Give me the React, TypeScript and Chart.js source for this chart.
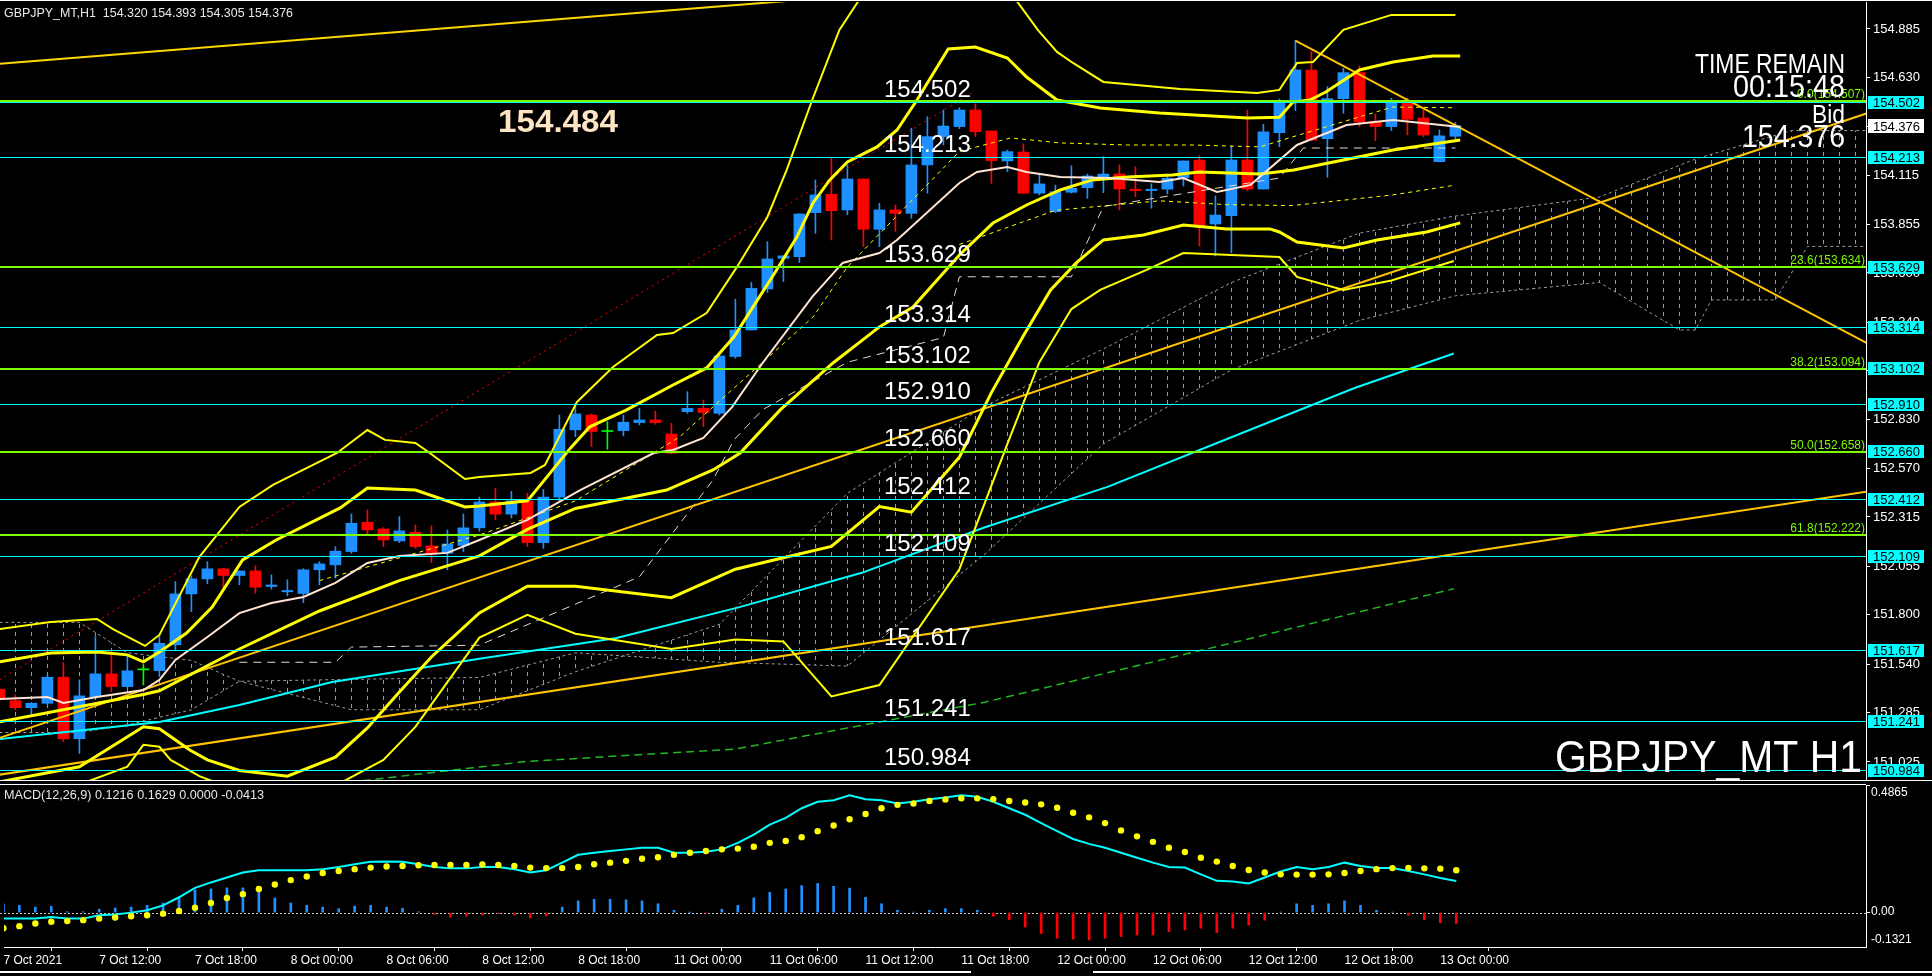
import React, { useEffect, useRef } from "react";
import { Chart, registerables } from "chart.js";
Chart.register(...registerables);

// ---------------- DATA ----------------
const opens = [151.408,151.348,151.311,151.334,151.471,151.147,151.369,151.489,151.422,151.510,151.506,151.642,151.910,151.989,152.042,152.007,152.031,151.949,151.921,151.912,152.037,152.063,152.133,152.287,152.252,152.189,152.235,152.163,152.124,152.165,152.258,152.394,152.330,152.400,152.180,152.420,152.774,152.852,152.765,152.770,152.812,152.826,152.752,152.870,152.887,152.861,153.160,153.300,153.516,153.677,153.686,153.918,154.014,153.932,154.095,153.830,153.932,153.914,154.169,154.318,154.371,154.458,154.348,154.190,154.237,154.020,153.923,154.025,154.049,154.107,154.121,154.041,154.034,154.041,154.102,154.195,153.858,153.902,154.195,154.042,154.339,154.502,154.669,154.307,154.518,154.655,154.399,154.371,154.504,154.416,154.186,154.320];
const highs = [151.422,151.378,151.338,151.483,151.548,151.457,151.685,151.606,151.580,151.536,151.694,151.975,152.005,152.080,152.045,152.031,152.058,152.010,151.984,152.043,152.080,152.159,152.331,152.352,152.259,152.317,152.273,152.268,152.247,152.331,152.420,152.465,152.450,152.440,152.460,152.852,152.914,152.858,152.817,152.852,152.888,152.873,152.808,152.975,152.931,153.168,153.462,153.551,153.765,153.690,153.911,154.090,154.207,154.169,154.095,153.967,153.958,154.362,154.423,154.459,154.470,154.490,154.348,154.248,154.279,154.125,154.063,154.164,154.121,154.213,154.169,154.160,154.069,154.121,154.190,154.218,154.006,154.269,154.458,154.383,154.516,154.824,154.766,154.581,154.678,154.690,154.437,154.520,154.520,154.458,154.353,154.393];
const lows = [151.348,151.299,151.264,151.325,151.132,151.070,151.361,151.396,151.413,151.431,151.475,151.615,151.817,151.963,151.945,151.958,151.914,151.935,151.900,151.864,151.958,151.993,152.124,152.226,152.159,152.180,152.150,152.075,152.037,152.133,152.240,152.300,152.310,152.160,152.150,152.400,152.738,152.686,152.672,152.742,152.800,152.803,152.647,152.861,152.791,152.852,153.151,153.300,153.497,153.555,153.655,153.809,153.774,153.906,153.739,153.739,153.818,153.888,154.020,154.274,154.360,154.318,154.072,154.134,154.020,154.011,153.918,154.020,153.993,154.023,153.932,154.002,153.941,154.016,154.058,153.742,153.690,153.707,154.034,154.042,154.265,154.455,154.300,154.104,154.441,154.371,154.297,154.350,154.327,154.318,154.186,154.305];
const closes = [151.361,151.311,151.334,151.471,151.147,151.373,151.489,151.422,151.505,151.510,151.650,151.910,151.989,152.042,152.007,152.031,151.945,151.957,151.928,152.037,152.068,152.135,152.282,152.247,152.194,152.242,152.159,152.121,152.173,152.258,152.394,152.330,152.400,152.180,152.420,152.777,152.858,152.765,152.765,152.814,152.826,152.812,152.651,152.887,152.865,153.163,153.300,153.519,153.674,153.690,153.911,154.011,153.928,154.095,153.830,153.932,153.914,154.169,154.318,154.374,154.458,154.344,154.192,154.239,154.020,154.069,154.028,154.046,154.111,154.121,154.042,154.034,154.041,154.099,154.190,153.848,153.905,154.195,154.042,154.343,154.504,154.669,154.300,154.518,154.655,154.395,154.371,154.504,154.409,154.327,154.322,154.376];

const timeTickIndex = [0,6,12,18,24,30,36,42,48,54,60,66,72,78,84,90];
const timeTickLabels = ["7 Oct 2021","7 Oct 12:00","7 Oct 18:00","8 Oct 00:00","8 Oct 06:00","8 Oct 12:00","8 Oct 18:00","11 Oct 00:00","11 Oct 06:00","11 Oct 12:00","11 Oct 18:00","12 Oct 00:00","12 Oct 06:00","12 Oct 12:00","12 Oct 18:00","13 Oct 00:00"];
const priceTicks = [154.885,154.630,154.370,154.115,153.855,153.600,153.340,153.085,152.830,152.570,152.315,152.055,151.800,151.540,151.285,151.025];

const levels = [154.502,154.213,153.629,153.314,153.102,152.910,152.660,152.412,152.109,151.617,151.241,150.984];
const fibLevels = [154.507,153.634,153.094,152.658,152.222];
const fibNames = ["0.0","23.6","38.2","50.0","61.8"];
const bidPrice = 154.376;

const macdLine = [-0.023,-0.023,-0.023,-0.017,-0.023,-0.023,-0.010,-0.007,0.000,0.009,0.028,0.059,0.095,0.116,0.135,0.154,0.163,0.163,0.163,0.163,0.167,0.175,0.186,0.195,0.196,0.195,0.186,0.175,0.170,0.170,0.175,0.175,0.167,0.154,0.163,0.192,0.222,0.230,0.237,0.243,0.249,0.249,0.230,0.230,0.234,0.243,0.268,0.300,0.338,0.364,0.401,0.426,0.432,0.451,0.436,0.432,0.419,0.426,0.436,0.442,0.451,0.445,0.426,0.401,0.376,0.344,0.313,0.283,0.264,0.249,0.230,0.211,0.192,0.175,0.173,0.147,0.122,0.120,0.112,0.135,0.158,0.175,0.167,0.175,0.192,0.179,0.171,0.171,0.160,0.147,0.133,0.1216];
const macdSignal = [-0.060,-0.052,-0.042,-0.035,-0.032,-0.029,-0.023,-0.019,-0.014,-0.010,-0.004,0.006,0.019,0.037,0.056,0.071,0.091,0.108,0.125,0.139,0.152,0.160,0.167,0.173,0.177,0.179,0.182,0.183,0.183,0.183,0.185,0.183,0.179,0.173,0.171,0.171,0.175,0.186,0.192,0.199,0.207,0.213,0.222,0.230,0.237,0.243,0.246,0.253,0.268,0.275,0.290,0.313,0.335,0.359,0.379,0.401,0.414,0.419,0.429,0.435,0.439,0.439,0.436,0.429,0.423,0.416,0.403,0.384,0.366,0.344,0.316,0.293,0.272,0.249,0.233,0.211,0.196,0.179,0.164,0.154,0.147,0.146,0.146,0.147,0.152,0.160,0.167,0.171,0.172,0.170,0.169,0.1629];
const macdHist = [0.034,0.028,0.021,0.024,0.003,0.003,0.013,0.018,0.021,0.028,0.037,0.059,0.087,0.091,0.095,0.095,0.078,0.056,0.037,0.028,0.021,0.015,0.025,0.028,0.021,0.017,0.003,-0.006,-0.017,-0.014,-0.010,-0.004,-0.010,-0.020,-0.013,0.021,0.045,0.051,0.051,0.049,0.045,0.034,0.009,0.001,-0.001,0.013,0.028,0.057,0.078,0.091,0.104,0.112,0.101,0.094,0.059,0.034,0.009,0.002,0.009,0.015,0.015,0.009,-0.014,-0.027,-0.055,-0.080,-0.098,-0.102,-0.105,-0.098,-0.092,-0.086,-0.086,-0.073,-0.067,-0.060,-0.077,-0.060,-0.048,-0.029,0.002,0.034,0.028,0.034,0.045,0.028,0.009,0.002,-0.010,-0.027,-0.039,-0.0413];

// indicator lines: [bar index, price]
const bbUpperThin = [[0,151.725],[3.2,151.762],[6.1,151.778],[7.1,151.725],[9.1,151.636],[10,151.694],[12.5,152.105],[15,152.368],[17.1,152.484],[21.1,152.652],[23,152.773],[24.1,152.721],[26,152.705],[26.9,152.652],[29.1,152.515],[30,152.526],[33.2,152.547],[34.1,152.589],[36.1,152.921],[38.35,153.105],[41.1,153.274],[42.1,153.284],[44.2,153.389],[46.1,153.632],[48,153.895],[49.2,154.142],[50.8,154.511],[52.5,154.88],[55,155.2],[60,155.35],[63,155.1],[64.9,154.88],[66.1,154.764],[67.1,154.706],[69,154.606],[73.8,154.569],[78.6,154.548],[80,154.564],[81.1,154.706],[82.1,154.711],[84,154.88],[87,154.959],[91,154.959]];
const bbUpperThick = [[0,151.552],[3.2,151.599],[6.1,151.604],[8,151.589],[9,151.552],[10,151.604],[11.7,151.704],[13.3,151.841],[15.2,152.089],[17.3,152.194],[21.3,152.363],[23,152.468],[26,152.457],[29.1,152.368],[30,152.373],[33,152.40],[35.7,152.679],[36.9,152.79],[39.2,152.879],[42.1,153.010],[44.2,153.100],[45.9,153.263],[47.5,153.474],[48.3,153.579],[49.85,153.790],[50.85,153.969],[51.9,154.090],[53,154.185],[54.85,154.264],[56.1,154.353],[57.35,154.511],[59.3,154.78],[61,154.79],[63,154.732],[64.2,154.632],[66.1,154.511],[68.8,154.469],[72.5,154.443],[78,154.416],[80,154.42],[80.85,154.5],[81.9,154.511],[82.9,154.553],[85,154.669],[87.1,154.711],[89.6,154.743],[91.3,154.743]];
const bbMiddle = [[0,151.236],[9,151.38],[10,151.40],[15,151.62],[20,151.82],[25,151.98],[30,152.11],[33,152.25],[36,152.36],[41.7,152.457],[44.6,152.563],[46.3,152.652],[48.8,152.879],[52.1,153.126],[55,153.316],[57.1,153.421],[60,153.695],[62.1,153.863],[64.2,153.958],[66.3,154.037],[68.3,154.090],[70.5,154.106],[73.3,154.116],[75,154.132],[78.8,154.121],[80.9,154.142],[84,154.195],[87.1,154.248],[91.3,154.300]];
const bbLowerThick = [[0,150.92],[5,151.0],[9,151.21],[10,151.2],[11.9,151.088],[13,151.036],[15,150.98],[18,150.95],[21,151.05],[23,151.204],[25,151.394],[27,151.578],[30,151.81],[33,151.95],[36,151.95],[42,151.89],[46,152.04],[49,152.1],[52,152.16],[55,152.37],[57,152.34],[60,152.63],[62,152.97],[64,153.27],[65.7,153.511],[67.3,153.653],[69,153.774],[71.5,153.800],[74,153.853],[76.7,153.832],[79.4,153.832],[80,153.816],[81.1,153.763],[84,153.732],[86.1,153.774],[89.2,153.816],[91.3,153.864]];
const bbLowerThin = [[0,150.75],[8,151.0],[9,151.115],[10,151.105],[10.7,151.036],[12.5,150.95],[15,150.87],[21,150.9],[24,151.036],[26,151.21],[28.1,151.457],[30,151.68],[33,151.8],[36,151.7],[42,151.62],[46,151.67],[49,151.66],[52,151.37],[55,151.43],[60,152.04],[63,152.7],[65,153.13],[67,153.41],[68.8,153.511],[71.7,153.616],[74,153.705],[80,153.684],[81.1,153.579],[84,153.511],[87,153.56],[90.9,153.663]];
const fastMA = [[0,151.357],[3,151.367],[4,151.336],[6.1,151.367],[9,151.404],[10,151.457],[11,151.562],[13,151.683],[15,151.809],[17,151.862],[19,151.894],[21,151.968],[23,152.073],[25,152.110],[28,152.126],[30,152.194],[33,152.30],[36.3,152.457],[40.9,152.652],[42.1,152.668],[44,152.731],[45.8,152.895],[47.7,153.126],[50.8,153.474],[52.7,153.653],[55,153.705],[56.1,153.774],[60,154.074],[61.1,154.132],[63,154.158],[64.2,154.132],[66.3,154.106],[69.4,154.100],[72.5,154.079],[74,154.100],[76.1,154.027],[78.2,154.064],[81.1,154.274],[84.2,154.379],[87.1,154.406],[91.3,154.369]];
const envUpper = [[20,151.98],[30,152.22],[36,152.40],[42.5,152.736],[50.85,153.368],[53,153.632],[60,154.24],[63.2,154.311],[66.3,154.285],[70.5,154.274],[74.6,154.274],[78.8,154.264],[80.8,154.316],[85,154.422],[87.1,154.474],[91,154.47]];
const envLower = [[60,153.75],[66,153.93],[72.5,153.98],[76.7,153.96],[80.8,153.955],[87,154.01],[90.8,154.06]];
const kijun = [[15,151.55],[21,151.55],[22,151.63],[30,151.64],[40,152.0],[44.6,152.51],[45.9,152.72],[47.7,152.88],[53,153.13],[59,153.26],[60,153.58],[67,153.58],[69,153.95],[80,154.10],[81.5,154.258],[91,154.258]];
const cyanMA = [[0,151.145],[10,151.236],[15,151.325],[20.8,151.446],[30,151.568],[38.5,151.677],[46.2,151.839],[53.9,152.021],[61.6,152.261],[69.3,152.475],[77,152.735],[84.7,152.994],[90.9,153.176]];
const greenMA = [[0,150.80],[20,150.90],[33,151.028],[46,151.093],[61.6,151.34],[77,151.651],[90.9,151.937]];
const cloudTop = [[0,151.76],[5,151.76],[8,151.60],[12,151.56],[15,151.45],[22,151.30],[30,151.30],[36,151.50],[45,151.75],[53,152.44],[61.6,152.90],[69,153.20],[77,153.55],[85,153.81],[91,153.90],[100,154.0],[106,154.2],[112,154.35],[117,154.35]];
const cloudBottom = [[0,151.18],[5,151.18],[8,151.22],[12,151.30],[15,151.45],[22,151.46],[30,151.47],[36,151.60],[45,151.55],[53,151.53],[61.6,152.12],[69,152.70],[77,153.09],[85,153.35],[91,153.48],[100,153.55],[105,153.30],[106,153.30],[107,153.458],[111,153.458],[113,153.74],[117,153.74]];
const trendA = [[0,154.701],[100,155.374]];
const trendB = [[-1,150.945],[120,152.490]];
const trendC = [[-1,151.123],[120,154.533]];
const trendD = [[81,154.824],[120,153.085]];
const trendRed = [[0,151.457],[61,154.558]];

// ---------------- LAYOUT ----------------
const FONT = '"Liberation Sans", Arial, sans-serif';
const PLOT_W = 1866;
const X_MIN = 0.0375;
const X_MAX = X_MIN + PLOT_W / 16;
const P_MIN = 150.930;
const P_MAX = 155.027;
const BULL = "#1E90FF";
const BEAR = "#FF0000";
const DOJI = "#00FF00";

Chart.defaults.font.family = FONT;

const candleColor = (i: number) => (closes[i] > opens[i] ? BULL : closes[i] < opens[i] ? BEAR : DOJI);

function pts(a: number[][]) {
  return a.map(([x, y]) => ({ x, y }));
}

function lineDs(a: number[][], color: string, width: number, dash: number[] = [], order = 1) {
  return {
    type: "line",
    data: pts(a),
    borderColor: color,
    borderWidth: width,
    borderDash: dash,
    pointRadius: 0,
    fill: false,
    tension: 0,
    order,
  };
}

function fitText(ctx: CanvasRenderingContext2D, text: string, x: number, baseY: number, size: number, weight: string, targetW: number, align: string, color: string) {
  ctx.save();
  ctx.font = `${weight} ${size}px ${FONT}`;
  const w = ctx.measureText(text).width;
  const sx = targetW / w;
  ctx.fillStyle = color;
  ctx.textBaseline = "alphabetic";
  ctx.textAlign = "left";
  const left = align === "left" ? x : x - targetW;
  ctx.translate(left, baseY);
  ctx.scale(sx, 1);
  ctx.fillText(text, 0, 0);
  ctx.restore();
}

function makeHatch() {
  const c = document.createElement("canvas");
  c.width = 16;
  c.height = 8;
  const g = c.getContext("2d")!;
  g.fillStyle = "#9a9a9a";
  g.fillRect(15, 0, 1, 4);
  return g.createPattern(c, "repeat");
}

const zeroPad = (s: any) => {
  s.paddingTop = 0;
  s.paddingBottom = 0;
  s.paddingLeft = 0;
  s.paddingRight = 0;
};

const mainPlugin = {
  id: "mainDecor",
  afterDatasetsDraw(chart: any) {
    const { ctx, scales } = chart;
    const y = scales.y;
    const py = (v: number) => Math.round(y.getPixelForValue(v));
    ctx.save();
    ctx.fillStyle = "#00FFFF";
    levels.forEach((v) => ctx.fillRect(0, py(v), PLOT_W, 1));
    ctx.fillStyle = "#7CFC00";
    fibLevels.forEach((v) => ctx.fillRect(0, py(v) - 1, PLOT_W, 2));
    ctx.font = `24px ${FONT}`;
    ctx.fillStyle = "#FFFFFF";
    ctx.textAlign = "left";
    ctx.textBaseline = "alphabetic";
    levels.forEach((v) => ctx.fillText(v.toFixed(3), 884, py(v) - 5));
    ctx.font = `12px ${FONT}`;
    ctx.fillStyle = "#7CFC00";
    ctx.textAlign = "right";
    fibLevels.forEach((v, i) => ctx.fillText(`${fibNames[i]}(${v.toFixed(3)})`, 1865, py(v) - 3));
    ctx.restore();

    fitText(ctx, "154.484", 498, 132, 31, "bold", 120, "left", "#FFE4C4");
    fitText(ctx, "TIME REMAIN", 1845, 73, 28, "normal", 150, "right", "#FFFFFF");
    fitText(ctx, "00:15:48", 1845, 97, 31, "normal", 112, "right", "#FFFFFF");
    fitText(ctx, "Bid", 1845, 123, 25, "normal", 33, "right", "#FFFFFF");
    fitText(ctx, "154.376", 1845, 147, 31, "normal", 103, "right", "#FFFFFF");
    fitText(ctx, "GBPJPY_MT H1", 1862, 772, 45, "normal", 307, "right", "#FFFFFF");
    fitText(ctx, "GBPJPY_MT,H1  154.320 154.393 154.305 154.376", 4, 17, 13, "normal", 289, "left", "#E8E8E8");
  },
  afterDraw(chart: any) {
    const { ctx, scales } = chart;
    const y = scales.y;
    const py = (v: number) => Math.round(y.getPixelForValue(v));
    ctx.save();
    ctx.fillStyle = "#FFFFFF";
    ctx.fillRect(0, 0, 1932, 1);
    ctx.fillRect(0, 780, 1932, 1);
    ctx.font = `13px ${FONT}`;
    ctx.textAlign = "left";
    ctx.textBaseline = "middle";
    levels.forEach((v) => {
      const yc = py(v);
      ctx.fillStyle = "#00FFFF";
      ctx.fillRect(1868, yc - 6, 56, 13);
      ctx.fillStyle = "#000000";
      ctx.fillText(v.toFixed(3), 1873, yc + 1);
    });
    const yb = py(bidPrice);
    ctx.fillStyle = "#FFFFFF";
    ctx.fillRect(1868, yb - 7, 56, 14);
    ctx.fillStyle = "#000000";
    ctx.fillText(bidPrice.toFixed(3), 1873, yb + 1);
    ctx.restore();
  },
};

const macdPlugin = {
  id: "macdDecor",
  beforeDatasetsDraw(chart: any) {
    const { ctx, scales } = chart;
    const y0 = Math.round(scales.y.getPixelForValue(0));
    ctx.save();
    ctx.fillStyle = "#C8C8C8";
    for (let x = 0; x < PLOT_W; x += 4) ctx.fillRect(x, y0, 2, 1);
    ctx.restore();
  },
  afterDraw(chart: any) {
    const { ctx } = chart;
    ctx.save();
    ctx.fillStyle = "#FFFFFF";
    ctx.fillRect(0, 2, PLOT_W, 1);
    ctx.font = `12px ${FONT}`;
    ctx.textAlign = "left";
    ctx.textBaseline = "middle";
    ctx.fillText("0.4865", 1871, 11);
    ctx.fillText("0.00", 1871, 130);
    ctx.fillText("-0.1321", 1871, 158);
    ctx.fillRect(1866, 3, 4, 1);
    ctx.fillRect(1866, 130, 4, 1);
    ctx.fillRect(0, 189, 971, 2);
    ctx.fillRect(1093, 189, 839, 2);
    ctx.restore();
    fitText(ctx, "MACD(12,26,9) 0.1216 0.1629 0.0000 -0.0413", 4, 17, 12, "normal", 260, "left", "#E8E8E8");
  },
};

function mainConfig(): any {
  const hatch = makeHatch();
  return {
    type: "bar",
    data: {
      datasets: [
        {
          type: "line",
          data: pts(cloudTop),
          borderColor: "#9a9a9a",
          borderWidth: 1,
          borderDash: [3, 3],
          pointRadius: 0,
          tension: 0,
          fill: "+1",
          backgroundColor: hatch,
          order: 30,
        },
        {
          type: "line",
          data: pts(cloudBottom),
          borderColor: "#9a9a9a",
          borderWidth: 1,
          borderDash: [3, 3],
          pointRadius: 0,
          tension: 0,
          fill: false,
          order: 29,
        },
        {
          type: "bar",
          data: opens.map((o, i) => ({ x: i, y: [lows[i], highs[i]] })),
          backgroundColor: opens.map((o, i) => candleColor(i)),
          barThickness: 1,
          grouped: false,
          order: 21,
        },
        {
          type: "bar",
          data: opens.map((o, i) => ({ x: i, y: [Math.min(o, closes[i]), Math.max(o, closes[i])] })),
          backgroundColor: opens.map((o, i) => candleColor(i)),
          barThickness: 11,
          minBarLength: 1,
          grouped: false,
          order: 20,
        },
        lineDs(kijun, "#E8D8C8", 1, [8, 6], 12),
        lineDs(envUpper, "#FFFF00", 1, [4, 4], 11),
        lineDs(envLower, "#FFFF00", 1, [4, 4], 11),
        lineDs(greenMA, "#22B822", 1.5, [8, 5], 9),
        lineDs(cyanMA, "#00FFFF", 2, [], 8),
        lineDs(trendRed, "#FF0000", 1, [2, 4], 7),
        lineDs(trendA, "#FFD700", 2, [], 6),
        lineDs(trendB, "#FFC400", 2, [], 6),
        lineDs(trendC, "#FFC400", 2, [], 6),
        lineDs(trendD, "#FFC400", 2, [], 6),
        lineDs(bbUpperThin, "#FFFF00", 2, [], 5),
        lineDs(bbLowerThin, "#FFFF00", 2, [], 5),
        lineDs(bbUpperThick, "#FFFF00", 3, [], 4),
        lineDs(bbLowerThick, "#FFFF00", 3, [], 4),
        lineDs(bbMiddle, "#FFFF00", 3, [], 4),
        lineDs(fastMA, "#FFE4D2", 2, [], 3),
      ],
    },
    options: {
      responsive: false,
      animation: false,
      devicePixelRatio: 1,
      layout: { padding: { top: 2, bottom: 2, left: 0, right: 0 } },
      plugins: { legend: { display: false }, tooltip: { enabled: false } },
      scales: {
        x: { type: "linear", min: X_MIN, max: X_MAX, display: false, offset: false },
        y: {
          type: "linear",
          position: "right",
          min: P_MIN,
          max: P_MAX,
          afterFit: (s: any) => {
            s.width = 66;
            zeroPad(s);
          },
          afterBuildTicks: (s: any) => {
            s.ticks = priceTicks.map((v) => ({ value: v }));
          },
          ticks: {
            color: "#FFFFFF",
            font: { size: 13 },
            padding: 3,
            autoSkip: false,
            callback: (v: any) => Number(v).toFixed(3),
          },
          grid: { drawOnChartArea: false, drawTicks: true, tickLength: 4, color: "#FFFFFF" },
          border: { display: true, color: "#FFFFFF", width: 1 },
        },
      },
    },
    plugins: [mainPlugin],
  };
}

function macdConfig(): any {
  return {
    type: "bar",
    data: {
      datasets: [
        {
          type: "line",
          data: macdSignal.map((v, i) => ({ x: i, y: v })),
          showLine: false,
          pointRadius: 3.2,
          pointBorderWidth: 0,
          pointBackgroundColor: "#FFFF00",
          order: 0,
        },
        {
          type: "line",
          data: macdLine.map((v, i) => ({ x: i, y: v })),
          borderColor: "#00FFFF",
          borderWidth: 2,
          pointRadius: 0,
          tension: 0,
          order: 1,
        },
        {
          type: "bar",
          data: macdHist.map((v, i) => ({ x: i, y: v })),
          backgroundColor: macdHist.map((v) => (v >= 0 ? BULL : BEAR)),
          barThickness: 2,
          grouped: false,
          order: 2,
        },
      ],
    },
    options: {
      responsive: false,
      animation: false,
      devicePixelRatio: 1,
      layout: { padding: { top: 2, bottom: 0, left: 0, right: 0 } },
      plugins: { legend: { display: false }, tooltip: { enabled: false } },
      scales: {
        x: {
          type: "linear",
          min: X_MIN,
          max: X_MAX,
          offset: false,
          position: "bottom",
          afterFit: (s: any) => {
            s.height = 29;
            zeroPad(s);
          },
          afterBuildTicks: (s: any) => {
            s.ticks = timeTickIndex.map((v) => ({ value: v }));
          },
          ticks: {
            align: "start",
            color: "#FFFFFF",
            font: { size: 12 },
            maxRotation: 0,
            autoSkip: false,
            padding: 2,
            callback: (v: any) => {
              const k = timeTickIndex.indexOf(Math.round(Number(v)));
              return k >= 0 ? timeTickLabels[k] : "";
            },
          },
          grid: { drawOnChartArea: false, drawTicks: true, tickLength: 4, color: "#FFFFFF" },
          border: { display: true, color: "#FFFFFF" },
        },
        y: {
          type: "linear",
          position: "right",
          min: -0.1321,
          max: 0.4865,
          afterFit: (s: any) => {
            s.width = 66;
            zeroPad(s);
          },
          ticks: { display: false },
          grid: { drawOnChartArea: false, drawTicks: false },
          border: { display: true, color: "#FFFFFF" },
        },
      },
    },
    plugins: [macdPlugin],
  };
}

export default function App() {
  const mainRef = useRef<HTMLCanvasElement>(null);
  const macdRef = useRef<HTMLCanvasElement>(null);
  useEffect(() => {
    const c1 = new Chart(mainRef.current as HTMLCanvasElement, mainConfig());
    const c2 = new Chart(macdRef.current as HTMLCanvasElement, macdConfig());
    return () => {
      c1.destroy();
      c2.destroy();
    };
  }, []);
  return (
    <div style={{ position: "fixed", left: 0, top: 0, width: 1932, height: 976, background: "#000", overflow: "hidden" }}>
      <canvas ref={mainRef} width={1932} height={782} style={{ position: "absolute", left: 0, top: 0 }} />
      <canvas ref={macdRef} width={1932} height={194} style={{ position: "absolute", left: 0, top: 782 }} />
    </div>
  );
}
